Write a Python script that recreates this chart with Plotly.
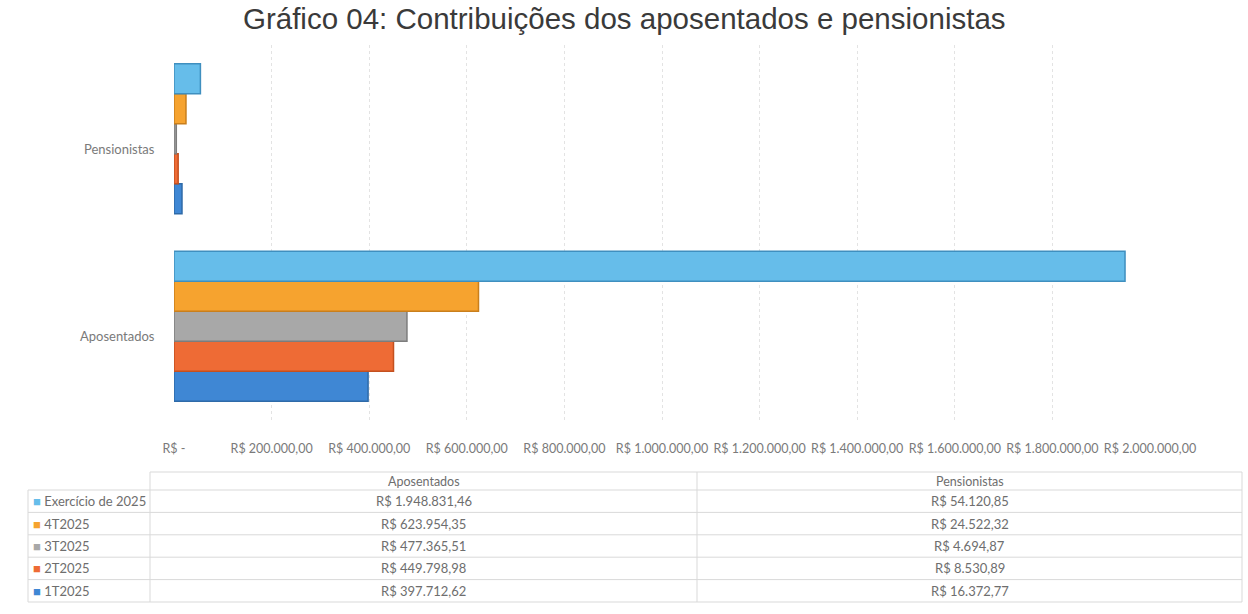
import plotly.graph_objects as go

categories = ["Aposentados", "Pensionistas"]
series_names = ["1T2025", "2T2025", "3T2025", "4T2025", "Exercício de 2025"]
aposentados = [397712.62, 449798.98, 477365.51, 623954.35, 1948831.46]
pensionistas = [16372.77, 8530.89, 4694.87, 24522.32, 54120.85]
colors = ["#3f87d4", "#ee6b35", "#a8a8a8", "#f6a32f", "#66bdea"]
edge_colors = ["#2e6aa8", "#c4501f", "#7d7d7d", "#c97f1c", "#3f8fbf"]
tick_vals = [0, 200000, 400000, 600000, 800000, 1000000, 1200000, 1400000, 1600000, 1800000, 2000000]
tick_text = ["R$ -", "R$ 200.000,00", "R$ 400.000,00", "R$ 600.000,00", "R$ 800.000,00",
             "R$ 1.000.000,00", "R$ 1.200.000,00", "R$ 1.400.000,00", "R$ 1.600.000,00",
             "R$ 1.800.000,00", "R$ 2.000.000,00"]
title_text = "Gráfico 04: Contribuições dos aposentados e pensionistas"

W, H = 1248, 614
FONT = "Lato"
TXT = "#6e6e6e"
GRID = "#d9d9d9"


def brl(v):
    s = f"{v:,.2f}"
    s = s.replace(",", "X").replace(".", ",").replace("X", ".")
    return "R$ " + s


def py(p):
    return 1 - p / H


def pxx(p):
    return p / W


fig = go.Figure()
for i, name in enumerate(series_names):
    fig.add_trace(go.Bar(
        y=categories,
        x=[aposentados[i], pensionistas[i]],
        name=name,
        orientation="h",
        marker=dict(color=colors[i], line=dict(color=edge_colors[i], width=1.5)),
        showlegend=False,
    ))

# ---- data table drawn with shapes + annotations (acts as legend) ----
shapes = []
annotations = []
col_x = [28, 150, 697, 1242]          # column boundaries (px)
head_top, head_bot = 472, 490
row_h = 22.4
n_rows = len(series_names)
rows_bot = head_bot + row_h * n_rows
line_style = dict(color=GRID, width=1)


def hline(x0, x1, y):
    shapes.append(dict(type="line", xref="paper", yref="paper",
                       x0=pxx(x0), x1=pxx(x1), y0=py(y), y1=py(y), line=line_style))


def vline(x, y0, y1):
    shapes.append(dict(type="line", xref="paper", yref="paper",
                       x0=pxx(x), x1=pxx(x), y0=py(y0), y1=py(y1), line=line_style))


hline(col_x[1], col_x[3], head_top)
for r in range(n_rows + 1):
    hline(col_x[0], col_x[3], head_bot + r * row_h)
vline(col_x[0], head_bot, rows_bot)
for cx in col_x[1:]:
    vline(cx, head_top, rows_bot)

headers = ["Aposentados", "Pensionistas"]
for j, htxt in enumerate(headers):
    annotations.append(dict(xref="paper", yref="paper",
                            x=pxx((col_x[j + 1] + col_x[j + 2]) / 2), y=py((head_top + head_bot) / 2),
                            text=htxt, showarrow=False, xanchor="center", yanchor="middle",
                            font=dict(family=FONT, size=12.5, color=TXT)))

order = list(range(n_rows))[::-1]   # Exercício first
for r, i in enumerate(order):
    yc = py(head_bot + row_h * r + row_h / 2)
    annotations.append(dict(xref="paper", yref="paper", x=pxx(31), y=yc,
                            text=f"<span style='color:{colors[i]}'>■</span> {series_names[i]}",
                            showarrow=False, xanchor="left", yanchor="middle",
                            font=dict(family=FONT, size=13, color=TXT)))
    for j, vals in enumerate([aposentados, pensionistas]):
        annotations.append(dict(xref="paper", yref="paper",
                                x=pxx((col_x[j + 1] + col_x[j + 2]) / 2), y=yc,
                                text=brl(vals[i]), showarrow=False,
                                xanchor="center", yanchor="middle",
                                font=dict(family=FONT, size=13, color=TXT)))

# category labels (slightly below bar-group centres, as in the 3D original)
for c in categories:
    annotations.append(dict(xref="paper", yref="y", x=pxx(157), y=c, text=c,
                            showarrow=False, xanchor="right", yanchor="middle", yshift=-10,
                            font=dict(family=FONT, size=13, color="#7a7a7a")))

# title
annotations.append(dict(xref="paper", yref="paper", x=0.5, y=py(0), text=title_text,
                        showarrow=False, xanchor="center", yanchor="top",
                        font=dict(family="Liberation Sans", size=29.5, color="#3a3a3a")))

fig.update_layout(
    width=W, height=H,
    paper_bgcolor="white", plot_bgcolor="white",
    margin=dict(l=0, r=0, t=0, b=0),
    barmode="group",
    bargap=0.2,
    bargroupgap=0.0,
    shapes=shapes,
    annotations=annotations,
    xaxis=dict(
        domain=[pxx(174), pxx(1150)],
        range=[0, 2000000],
        tickvals=tick_vals, ticktext=tick_text,
        showgrid=True, gridcolor="#e3e3e3", gridwidth=1, griddash="dot",
        zeroline=False, showline=False,
        tickfont=dict(family=FONT, size=12.5, color="#7a7a7a"),
        ticks="", ticklabelstandoff=19,
        automargin=False,
    ),
    yaxis=dict(
        domain=[py(420), py(45)],
        showgrid=False, zeroline=False, showline=False,
        showticklabels=False,
        categoryorder="array", categoryarray=categories,
        automargin=False,
    ),
)

fig.write_html("out.html", config={"displayModeBar": False},
               post_script="document.body.style.margin='0';")
